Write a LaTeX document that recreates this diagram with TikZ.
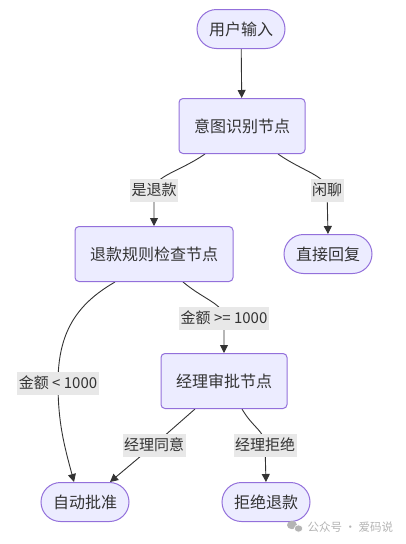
\documentclass[tikz,border=0pt]{standalone}
\usepackage{fontspec}
\setmainfont{Noto Sans CJK SC}
\usetikzlibrary{arrows.meta,backgrounds}
\definecolor{nodefill}{HTML}{ECECFF}
\definecolor{nodeline}{HTML}{9370DB}
\definecolor{edgeline}{HTML}{333333}
\definecolor{labelfill}{HTML}{E8E8E8}
\definecolor{markgray}{HTML}{B4B4B4}
\tikzset{
  procbox/.style={rectangle, draw=nodeline, fill=nodefill, line width=1pt, rounded corners=4pt,
    minimum height=55pt, inner xsep=15pt, text=edgeline, font=\fontsize{16}{16}\selectfont},
  termbox/.style={rectangle, draw=nodeline, fill=nodefill, line width=1pt, rounded corners=19.5pt,
    minimum height=39pt, inner xsep=12pt, text=edgeline, font=\fontsize{16}{16}\selectfont},
  edgelabel/.style={fill=labelfill, text=edgeline, inner xsep=1.5pt, inner ysep=0pt,
    minimum height=23pt, font=\fontsize{15}{15}\selectfont},
  flow/.style={draw=edgeline, line width=0.9pt, -{Triangle[length=8pt,width=8pt]}}
}
\begin{document}
\begin{tikzpicture}[x=1pt, y=1pt]
  \useasboundingbox (0,0) rectangle (405,-544);
  % Nodes
  \node (input) [termbox] at (241,-29) {用户输入};
  \node (intent) [procbox] at (242,-126) {意图识别节点};
  \node (refund) [procbox] at (154,-254) {退款规则检查节点};
  \node (reply) [termbox] at (328,-254) {直接回复};
  \node (manager) [procbox] at (224,-381) {经理审批节点};
  \node (auto) [termbox] at (85,-502) {自动批准};
  \node (reject) [termbox] at (266,-502) {拒绝退款};
  % Labels
  \node (isrefund) [edgelabel] at (154,-190) {是退款};
  \node (chat) [edgelabel] at (327,-190) {闲聊};
  \node (high) [edgelabel] at (224,-318) {金额 >= 1000};
  \node (low) [edgelabel] at (58,-383) {金额 < 1000};
  \node (agree) [edgelabel] at (154,-445) {经理同意};
  \node (refuse) [edgelabel] at (265,-445) {经理拒绝};
  % Arrows
  \begin{scope}[on background layer]
    \draw[flow] (input) -- (intent);
    \draw[flow] ([xshift=-37pt]intent.south) .. controls +(-145:30) and +(0,14) .. (isrefund.center) -- (refund.north);
    \draw[flow] ([xshift=36pt]intent.south) .. controls +(-35:30) and +(0,14) .. (chat.center) -- (reply.north);
    \draw[flow] ([xshift=29pt]refund.south) .. controls +(-40:28) and +(0,14) .. (high.center) -- (manager.north);
    \draw[flow] ([xshift=-39pt]refund.south) .. controls +(-150:45) and +(0,50) .. (low.center) to[out=-90, in=105] ([xshift=-11pt]auto.north);
    \draw[flow] ([xshift=-29pt]manager.south) -- (agree.center) -- ([xshift=25pt]auto.north);
    \draw[flow] ([xshift=18pt]manager.south) .. controls +(-60:22) and +(0,14) .. (refuse.center) -- (reject.north);
  \end{scope}
  % Watermark
  \fill[markgray] (292,-525) ellipse (5pt and 4.2pt);
  \fill[markgray, draw=white, line width=0.6pt] (298.5,-528.5) ellipse (4.2pt and 3.6pt);
  \node (mark) [text=markgray, font=\fontsize{11.5}{11.5}\selectfont, anchor=west] at (304,-527) {公众号 · 爱码说};
\end{tikzpicture}
\end{document}
